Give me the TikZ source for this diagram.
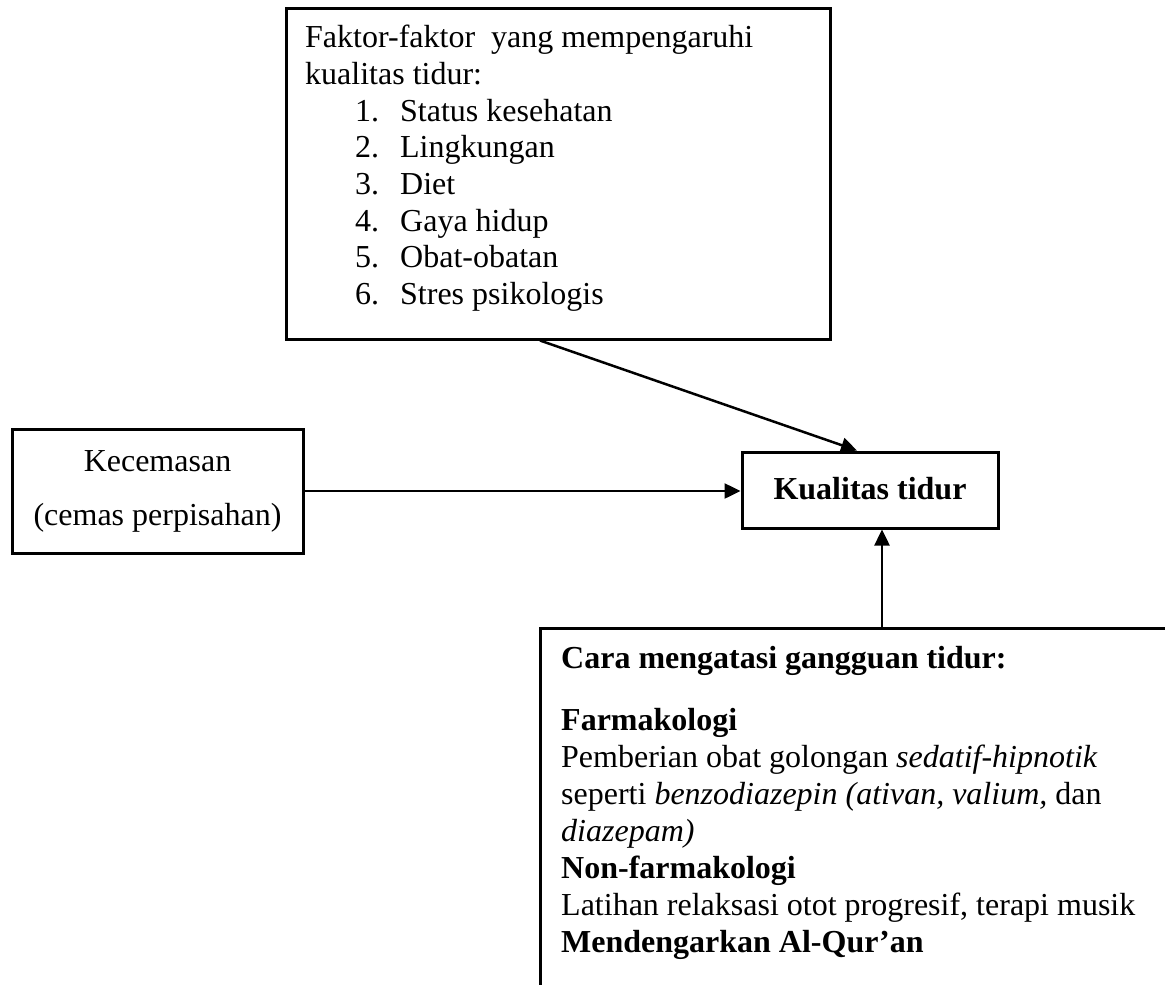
\documentclass[tikz,border=0pt]{standalone}
\usepackage{fontspec}
\setmainfont{Liberation Serif}
\usetikzlibrary{arrows.meta}
\tikzset{
    box/.style={draw,line width=3pt,inner sep=0pt},
    arr/.style={line width=2.5pt,-{Triangle[length=16pt,width=15pt]}},
    txt/.style={inner sep=0pt,align=left,anchor=north west,font=\fontsize{32pt}{36.7pt}\selectfont}
}

\begin{document}
\begin{tikzpicture}[x=1pt,y=-1pt]
\useasboundingbox (0,0) rectangle (1165,985);
\clip (0,0) rectangle (1165,985);
% boxes
\node[box,minimum width=544pt,minimum height=331pt] (faktor) at (558,173.5) {};
\node[txt] (faktortxt) at (305,25) {Faktor-faktor\ \ yang mempengaruhi\\
    kualitas tidur:\\
    \hspace*{50pt}\makebox[45pt][l]{1.}Status kesehatan\\
    \hspace*{50pt}\makebox[45pt][l]{2.}Lingkungan\\
    \hspace*{50pt}\makebox[45pt][l]{3.}Diet\\
    \hspace*{50pt}\makebox[45pt][l]{4.}Gaya hidup\\
    \hspace*{50pt}\makebox[45pt][l]{5.}Obat-obatan\\
    \hspace*{50pt}\makebox[45pt][l]{6.}Stres psikologis};
\node[box,minimum width=291pt,minimum height=124pt,align=center,font=\fontsize{32pt}{54pt}\selectfont] (kecemasan) at (157.5,491) {Kecemasan\\(cemas perpisahan)};
\node[box,minimum width=256pt,minimum height=76pt,text height=22pt,text depth=4pt,font=\fontsize{32pt}{36pt}\selectfont\bfseries] (kualitas) at (870,490) {Kualitas tidur};
\node[box,line width=2.5pt,anchor=north west,minimum width=660pt,minimum height=400pt] (cara) at (539,627) {};
\node[txt,font=\fontsize{32pt}{37pt}\selectfont] (caratxt) at (561,646) {\textbf{Cara mengatasi gangguan tidur:}\\[25pt]
    \textbf{Farmakologi}\\
    Pemberian obat golongan \textit{sedatif-hipnotik}\\
    seperti \textit{benzodiazepin (ativan, valium,} dan\\
    \textit{diazepam)}\\
    \textbf{Non-farmakologi}\\
    Latihan relaksasi otot progresif, terapi musik\\
    \textbf{Mendengarkan Al-Qur’an}};
% arrows
\draw[arr] (kecemasan.east) -- (kecemasan.east -| kualitas.west);
\draw[arr] ([xshift=-18pt]faktor.south) -- ([xshift=-13pt]kualitas.north);
\draw[arr] ([xshift=12pt]cara.north -| kualitas.south) -- ([xshift=12pt]kualitas.south);
\end{tikzpicture}
\end{document}
